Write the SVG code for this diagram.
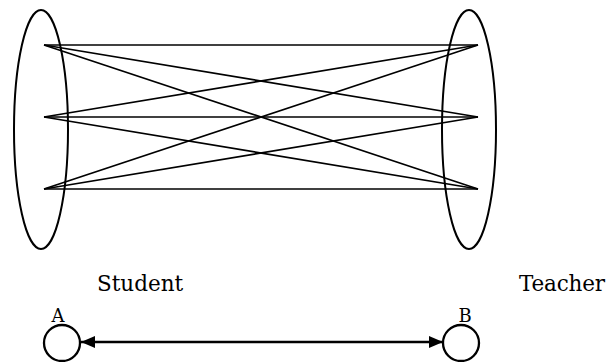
<svg xmlns="http://www.w3.org/2000/svg" width="609" height="362" viewBox="0 0 609 362">
<style>
.sh{fill:none;stroke:#000;stroke-width:2}
.ci{fill:none;stroke:#000;stroke-width:2.3}
.ln{stroke:#000;stroke-width:1.6;fill:none}
.ar{stroke:#000;stroke-width:2.3;fill:none}
.lbl{font-family:"DejaVu Serif","Liberation Serif",serif;font-size:21.5px;fill:#000}
.sm{font-family:"DejaVu Serif","Liberation Serif",serif;font-size:18px;fill:#000}
</style>
<defs>
<marker id="ah" viewBox="0 0 14 12" refX="14" refY="6" markerWidth="14" markerHeight="12" markerUnits="userSpaceOnUse" orient="auto-start-reverse">
<path d="M0,0 L14,6 L0,12 Z" fill="#000"/>
</marker>
</defs>
<rect width="609" height="362" fill="#fff"/>
<g id="student-set">
<ellipse class="sh" cx="41" cy="129.5" rx="27" ry="119.5"/>
</g>
<g id="teacher-set">
<ellipse class="sh" cx="469" cy="129.5" rx="27" ry="119.5"/>
</g>
<g id="connectors">
<line class="ln" x1="44" y1="45" x2="478" y2="45"/>
<line class="ln" x1="44" y1="45" x2="478" y2="117"/>
<line class="ln" x1="44" y1="45" x2="478" y2="189"/>
<line class="ln" x1="44" y1="117" x2="478" y2="45"/>
<line class="ln" x1="44" y1="117" x2="478" y2="117"/>
<line class="ln" x1="44" y1="117" x2="478" y2="189"/>
<line class="ln" x1="44" y1="189" x2="478" y2="45"/>
<line class="ln" x1="44" y1="189" x2="478" y2="117"/>
<line class="ln" x1="44" y1="189" x2="478" y2="189"/>
<line class="ar" x1="81" y1="342" x2="443" y2="342" marker-start="url(#ah)" marker-end="url(#ah)"/>
</g>
<g id="label-student"><text class="lbl" x="97" y="291">Student</text></g>
<g id="label-teacher"><text class="lbl" x="519" y="291" textLength="86">Teacher</text></g>
<g id="node-a">
<circle class="ci" cx="62" cy="343" r="18"/>
<text class="sm" x="58" y="322" text-anchor="middle">A</text>
</g>
<g id="node-b">
<circle class="ci" cx="461" cy="343" r="18"/>
<text class="sm" x="465" y="322" text-anchor="middle">B</text>
</g>
</svg>
